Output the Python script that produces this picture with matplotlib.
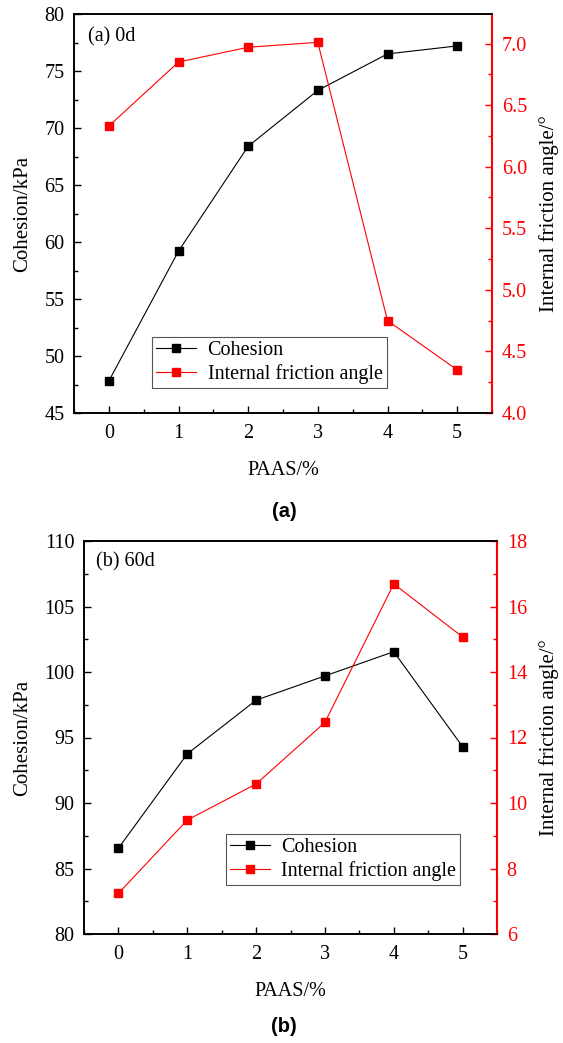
import matplotlib.pyplot as plt
from matplotlib.ticker import MultipleLocator

plt.rcParams['font.family'] = ['Liberation Serif', 'DejaVu Serif']

paas = [0, 1, 2, 3, 4, 5]

# (a) 0d
coh_0d = [47.8, 59.2, 68.4, 73.3, 76.5, 77.2]
phi_0d = [6.33, 6.85, 6.97, 7.01, 4.75, 4.35]

# (b) 60d
coh_60d = [86.55, 93.75, 97.85, 99.7, 101.55, 94.3]
phi_60d = [7.24, 9.48, 10.58, 12.46, 16.69, 15.07]

W, H = 563, 1043
fig = plt.figure(figsize=(W / 100, H / 100), dpi=100)

FS = 14.5


def box(l, t, r, b):
    return [l / W, 1 - b / H, (r - l) / W, (b - t) / H]


def panel(rect, coh, phi, ylim1, ystep1, ylim2, ystep2, tag, tagpos, legloc, sub, suby):
    ax = fig.add_axes(rect)
    ax2 = ax.twinx()
    l1, = ax.plot(paas, coh, '-s', color='black', lw=0.8, ms=5.5)
    l2, = ax2.plot(paas, phi, '-s', color='red', lw=0.8, ms=5.5)

    ax.set_xlim(-0.5, 5.5)
    ax.set_ylim(*ylim1)
    ax2.set_ylim(*ylim2)
    ax.xaxis.set_major_locator(MultipleLocator(1))
    ax.xaxis.set_minor_locator(MultipleLocator(0.5))
    ax.yaxis.set_major_locator(MultipleLocator(ystep1))
    ax.yaxis.set_minor_locator(MultipleLocator(ystep1 / 2))
    ax2.yaxis.set_major_locator(MultipleLocator(ystep2))
    ax2.yaxis.set_minor_locator(MultipleLocator(ystep2 / 2))

    ax.tick_params(which='both', direction='in', top=False, labelsize=FS, width=1, pad=7)
    ax.tick_params(which='major', length=5)
    ax.tick_params(which='minor', length=3)
    ax.tick_params(axis='x', pad=8)
    ax2.tick_params(which='both', direction='in', colors='red', labelsize=FS, width=1, pad=7)
    ax2.tick_params(which='major', length=5)
    ax2.tick_params(which='minor', length=3)
    for s in ax.spines.values():
        s.set_linewidth(1.2)
    for s in ax2.spines.values():
        s.set_linewidth(1.2)
    ax2.spines['right'].set_color('red')
    ax2.spines['right'].set_linewidth(1.5)

    ax.set_xlabel('PAAS/%', fontsize=FS, labelpad=13)
    ax.set_ylabel('Cohesion/kPa', fontsize=15, labelpad=9)
    ax2.set_ylabel('Internal friction angle/°', fontsize=15, labelpad=9)

    ax.text(tagpos[0], tagpos[1], tag, transform=ax.transAxes, fontsize=FS,
            va='center', ha='left')

    leg = ax.legend([l1, l2], ['Cohesion', 'Internal friction angle'], loc='lower left',
                    bbox_to_anchor=legloc, fontsize=FS, fancybox=False, framealpha=1,
                    edgecolor='#555555', handlelength=2.0, borderpad=0.2,
                    labelspacing=0.2, handletextpad=0.55, borderaxespad=0)
    leg.get_frame().set_linewidth(0.8)

    fig.text(284 / W, 1 - suby / H, sub, fontsize=FS, fontweight='bold',
             family='Liberation Sans', ha='center', va='center')


panel(box(74, 14, 492, 413), coh_0d, phi_0d, (45, 80), 5, (4.0, 7.24), 0.5,
      '(a) 0d', (0.0335, 0.942), (0.187, 0.063), '(a)', 511)
panel(box(84, 541, 497, 934), coh_60d, phi_60d, (80, 110), 5, (6, 18), 2,
      '(b) 60d', (0.028, 0.947), (0.344, 0.125), '(b)', 1027)

fig.savefig('out.png', dpi=100)
